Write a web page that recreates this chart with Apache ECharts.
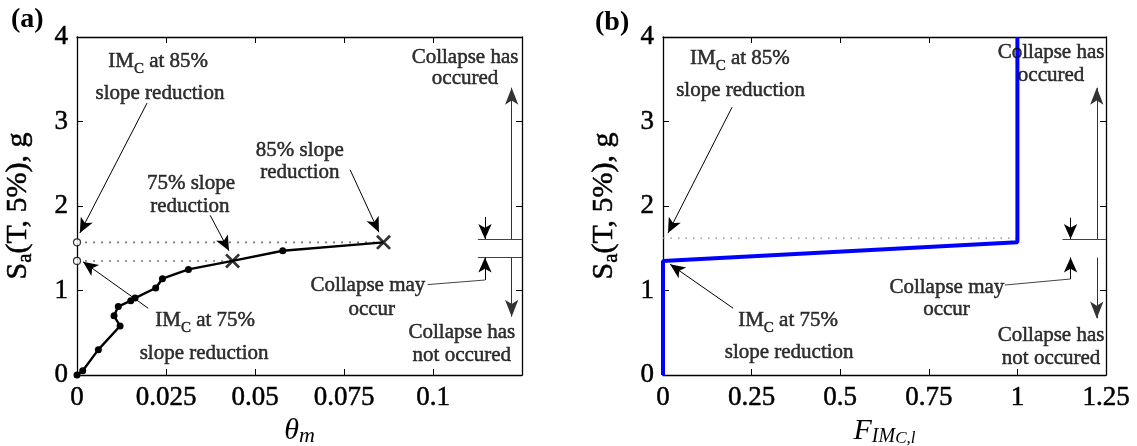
<!DOCTYPE html>
<html><head><meta charset="utf-8">
<script src="https://cdn.jsdelivr.net/npm/echarts@6/dist/echarts.min.js"></script>
<style>html,body{margin:0;padding:0;background:#fff}#c{width:1137px;height:446px}</style>
</head><body><div id="c"></div>
<script>
// ---------------- Panel (a): IDA curve ----------------
const thetaCurve = [0, 0.0016, 0.0060, 0.0121, 0.0104, 0.0116, 0.0151, 0.0163, 0.0221, 0.0240, 0.0313, 0.0437, 0.0578, 0.0861];
const saCurve    = [0, 0.05,   0.30,   0.58,   0.70,   0.81,   0.88,   0.91,   1.03,   1.14,   1.25,   1.35,   1.47,   1.57];
const collapseIdx = [11, 13];          // points marked with X (75% and 85% slope reduction)
const imc75 = 1.35, imc85 = 1.57;      // IM_C levels (dotted lines, open circles)
const xTicksA = [0, 0.025, 0.05, 0.075, 0.1];
const yTicks  = [0, 1, 2, 3, 4];

// ---------------- Panel (b): collapse fraction ----------------
const fracB = [0, 0, 1, 1];
const saB   = [0, 1.35, 1.57, 4];
const dottedB = 1.62;
const xTicksB = [0, 0.25, 0.5, 0.75, 1, 1.25];

// ---------------- Annotations (data coordinates) ----------------
const textsA = [
  ['{n|IM}{s|C}{n| at 85%}', 0.0228, 3.71], ['slope reduction', 0.0233, 3.33],
  ['75% slope', 0.0320, 2.27], ['reduction', 0.0317, 2.00],
  ['85% slope', 0.0626, 2.66], ['reduction', 0.0626, 2.40],
  ['{n|IM}{s|C}{n| at 75%}', 0.0360, 0.65], ['slope reduction', 0.0357, 0.26],
  ['Collapse has', 0.1090, 3.76], ['occured', 0.1090, 3.51],
  ['Collapse may', 0.0817, 1.06], ['occur', 0.0828, 0.77],
  ['Collapse has', 0.1081, 0.50], ['not occured', 0.1081, 0.23]
];
const textsB = [
  ['{n|IM}{s|C}{n| at 85%}', 0.217, 3.74], ['slope reduction', 0.219, 3.37],
  ['{n|IM}{s|C}{n| at 75%}', 0.353, 0.65], ['slope reduction', 0.356, 0.27],
  ['Collapse has', 1.095, 3.82], ['occured', 1.095, 3.55],
  ['Collapse may', 0.801, 1.04], ['occur', 0.800, 0.77],
  ['Collapse has', 1.095, 0.47], ['not occured', 1.095, 0.20]
];
// [x1, y1, x2, y2, kind]  kind: 'lead' arrow, 'line' plain, 'small' arrow, 'big' arrow
const arrowsA = [
  [0.0197, 3.22, 0.0008, 1.68, 'lead'], [0.0374, 1.89, 0.0427, 1.47, 'lead'],
  [0.0767, 2.43, 0.0848, 1.69, 'lead'], [0.0200, 0.79, 0.0017, 1.34, 'lead'],
  [0.1126, 1.61, 0.125, 1.61, 'line'], [0.1126, 1.39, 0.125, 1.39, 'line'],
  [0.1146, 1.87, 0.1146, 1.61, 'small'], [0.1146, 1.124, 0.1146, 1.39, 'small'],
  [0.0985, 1.07, 0.1146, 1.124, 'line'],
  [0.1221, 1.61, 0.1221, 3.40, 'big'], [0.1221, 1.39, 0.1221, 0.69, 'big']
];
const arrowsB = [
  [0.195, 3.17, 0.014, 1.68, 'lead'], [0.198, 0.79, 0.020, 1.31, 'lead'],
  [1.127, 1.61, 1.25, 1.61, 'line'], [1.127, 1.39, 1.258, 1.39, 'line'],
  [1.150, 1.86, 1.150, 1.61, 'small'], [1.150, 1.136, 1.150, 1.39, 'small'],
  [0.965, 1.065, 1.150, 1.136, 'line'],
  [1.224, 1.61, 1.224, 3.40, 'big'], [1.224, 1.39, 1.224, 0.67, 'big']
];

const SERIF = '"Liberation Serif","Times New Roman",serif';
const HEAVY = {textBorderColor: '#000', textBorderWidth: 0.5};
const richText = {
  n: Object.assign({fontFamily: SERIF, fontSize: 21, lineHeight: 30, color: '#000'}, HEAVY),
  s: Object.assign({fontFamily: SERIF, fontSize: 15, lineHeight: 8, verticalAlign: 'bottom', color: '#000'}, HEAVY)
};

function fmt(ticks) {
  return v => ticks.some(t => Math.abs(t - v) < 1e-9) ? String(+v.toFixed(4)) : '';
}
function baseAxis(extra) {
  return Object.assign({
    type: 'value',
    axisLine: {show: true, onZero: false, lineStyle: {color: '#000', width: 1.3}},
    axisTick: {show: true, inside: true, length: 6, lineStyle: {color: '#000', width: 1}},
    splitLine: {show: false},
    axisLabel: {show: false}
  }, extra);
}
function labelAxis(ticks, extra) {
  return baseAxis(Object.assign({
    axisLabel: Object.assign({show: true, color: '#000', fontFamily: SERIF, fontSize: 27, margin: 9,
                showMinLabel: true, showMaxLabel: true, formatter: fmt(ticks)}, HEAVY)
  }, extra));
}

function markLines(arr) {
  return arr.map(a => {
    const k = a[4];
    let endSym = 'none', size = 0, color = '#000';
    if (k === 'lead') { endSym = 'arrow'; size = [10, 15]; }
    if (k === 'small') { endSym = 'arrow'; size = [10, 15]; }
    if (k === 'big') { endSym = 'arrow'; size = [10, 17]; color = '#333'; }
    if (k === 'line') color = '#444';
    return [
      {coord: [a[0], a[1]], symbol: 'none', lineStyle: {color: color, width: 1, type: 'solid'}},
      {coord: [a[2], a[3]], symbol: endSym, symbolSize: size, itemStyle: {color: '#000'}}
    ];
  });
}
function annotSeries(arr, xi, yi) {
  return {
    type: 'line', xAxisIndex: xi, yAxisIndex: yi, data: [], silent: true, z: 6,
    markLine: {silent: true, animation: false, symbol: ['none', 'none'], label: {show: false},
               lineStyle: {color: '#000', width: 1, type: 'solid'},
               emphasis: {disabled: true}, data: markLines(arr)}
  };
}
function textSeries(arr, xi, yi) {
  return {
    type: 'scatter', xAxisIndex: xi, yAxisIndex: yi, silent: true, z: 10, clip: false,
    symbolSize: 1, itemStyle: {color: 'rgba(0,0,0,0)'},
    label: Object.assign({show: true, position: 'inside', color: '#000', fontFamily: SERIF, fontSize: 21,
            formatter: p => p.name, rich: richText}, HEAVY),
    data: arr.map(t => ({name: t[0], value: [t[1], t[2]]}))
  };
}

const xPath = 'path://M0,1.3L1.3,0L10,8.7L8.7,10Z M8.7,0L10,1.3L1.3,10L0,8.7Z';

const curveData = thetaCurve.map((t, i) => collapseIdx.includes(i)
  ? {value: [t, saCurve[i]], symbol: 'none'} : {value: [t, saCurve[i]]});

const yName = {
  name: '{n|S}{s|a}{n|(T, 5%), g}', nameLocation: 'middle', nameGap: 41, nameRotate: 90,
  nameTextStyle: {rich: {n: Object.assign({fontFamily: SERIF, fontSize: 30, lineHeight: 36, color: '#000'}, HEAVY),
                         s: Object.assign({fontFamily: SERIF, fontSize: 21, lineHeight: 12, verticalAlign: 'bottom', color: '#000'}, HEAVY)}}
};

const option = {
  animation: false,
  backgroundColor: '#fff',
  grid: [
    {left: 77, top: 37, width: 445, height: 338, outerBoundsMode: 'none', containLabel: false},
    {left: 663, top: 37, width: 443, height: 338, outerBoundsMode: 'none', containLabel: false}
  ],
  xAxis: [
    labelAxis(xTicksA, {gridIndex: 0, min: 0, max: 0.125, interval: 0.025, position: 'bottom',
      name: '{i|θ}{m|m}', nameLocation: 'middle', nameGap: 34,
      nameTextStyle: {rich: {i: {fontFamily: SERIF, fontStyle: 'italic', fontSize: 30, lineHeight: 32, color: '#000'},
                             m: {fontFamily: SERIF, fontStyle: 'italic', fontSize: 22, lineHeight: 18, verticalAlign: 'bottom', color: '#000'}}}}),
    baseAxis({gridIndex: 0, min: 0, max: 0.125, interval: 0.025, position: 'top'}),
    labelAxis(xTicksB, {gridIndex: 1, min: 0, max: 1.25, interval: 0.25, position: 'bottom',
      name: '{i|F}{s|IM}{t|C,l}', nameLocation: 'middle', nameGap: 33,
      nameTextStyle: {rich: {i: {fontFamily: SERIF, fontStyle: 'italic', fontSize: 30, lineHeight: 32, color: '#000'},
                             s: {fontFamily: SERIF, fontStyle: 'italic', fontSize: 20, lineHeight: 16, verticalAlign: 'bottom', color: '#000'},
                             t: {fontFamily: SERIF, fontStyle: 'italic', fontSize: 17, lineHeight: 12, verticalAlign: 'bottom', color: '#000'}}}}),
    baseAxis({gridIndex: 1, min: 0, max: 1.25, interval: 0.25, position: 'top'})
  ],
  yAxis: [
    labelAxis(yTicks, Object.assign({gridIndex: 0, min: 0, max: 4, interval: 1, position: 'left'}, yName)),
    baseAxis({gridIndex: 0, min: 0, max: 4, interval: 1, position: 'right'}),
    labelAxis(yTicks, Object.assign({gridIndex: 1, min: 0, max: 4, interval: 1, position: 'left'}, yName)),
    baseAxis({gridIndex: 1, min: 0, max: 4, interval: 1, position: 'right'})
  ],
  graphic: [
    {type: 'text', left: 11, top: 6, style: {text: '(a)', font: 'bold 28px ' + SERIF, fill: '#000'}},
    {type: 'text', left: 595, top: 9, style: {text: '(b)', font: 'bold 28px ' + SERIF, fill: '#000'}}
  ],
  series: [
    // panel (a)
    {type: 'line', xAxisIndex: 0, yAxisIndex: 0, symbol: 'none', silent: true, z: 2,
     lineStyle: {color: '#777', width: 1.6, type: [2, 6]},
     data: [[0, imc85], [thetaCurve[collapseIdx[1]], imc85]]},
    {type: 'line', xAxisIndex: 0, yAxisIndex: 0, symbol: 'none', silent: true, z: 2,
     lineStyle: {color: '#777', width: 1.6, type: [2, 6]},
     data: [[0, imc75], [thetaCurve[collapseIdx[0]], imc75]]},
    {type: 'line', xAxisIndex: 0, yAxisIndex: 0, silent: true, z: 4, clip: false,
     symbol: 'circle', symbolSize: 7, showAllSymbol: true,
     itemStyle: {color: '#000'}, lineStyle: {color: '#000', width: 2.4},
     data: curveData},
    {type: 'scatter', xAxisIndex: 0, yAxisIndex: 0, silent: true, z: 5,
     symbol: xPath, symbolSize: 15, itemStyle: {color: '#000'},
     data: collapseIdx.map(i => [thetaCurve[i], saCurve[i]])},
    {type: 'scatter', xAxisIndex: 0, yAxisIndex: 0, silent: true, z: 5, clip: false,
     symbol: 'circle', symbolSize: 7, itemStyle: {color: '#fff', borderColor: '#000', borderWidth: 1.2},
     data: [[0, imc85], [0, imc75]]},
    annotSeries(arrowsA, 0, 0),
    textSeries(textsA, 0, 0),
    // panel (b)
    {type: 'line', xAxisIndex: 2, yAxisIndex: 2, symbol: 'none', silent: true, z: 2,
     lineStyle: {color: '#888', width: 1.2, type: [1.5, 6]},
     data: [[0, dottedB], [1, dottedB]]},
    {type: 'line', xAxisIndex: 2, yAxisIndex: 2, symbol: 'none', silent: true, z: 4,
     lineStyle: {color: '#0000ff', width: 4},
     data: fracB.map((f, i) => [f, saB[i]])},
    annotSeries(arrowsB, 2, 2),
    textSeries(textsB, 2, 2)
  ]
};
const chart = echarts.init(document.getElementById('c'));
chart.setOption(option);
</script>
</body></html>
